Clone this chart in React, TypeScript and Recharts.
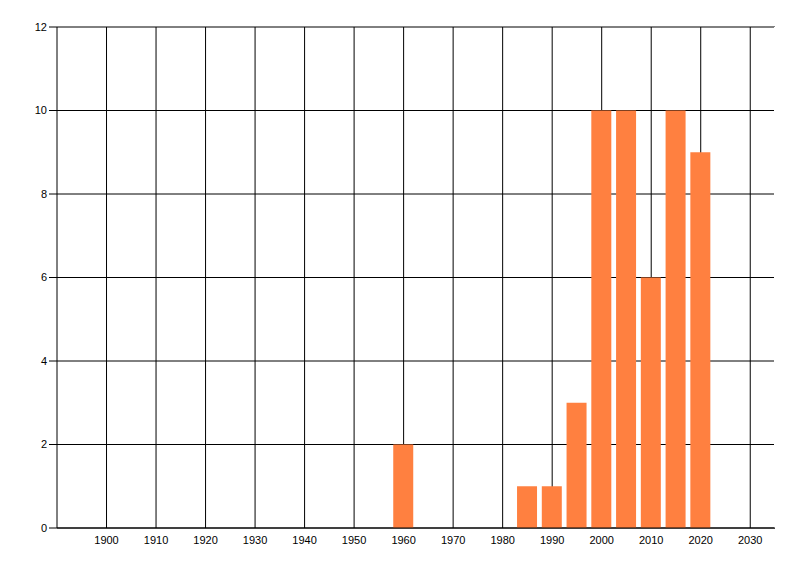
import React from 'react';
import { BarChart, Bar, XAxis, YAxis, CartesianGrid, ReferenceLine } from 'recharts';

const years = [1960, 1985, 1990, 1995, 2000, 2005, 2010, 2015, 2020];
const counts = [2, 1, 1, 3, 10, 10, 6, 10, 9];
const xTicks = [1900, 1910, 1920, 1930, 1940, 1950, 1960, 1970, 1980, 1990, 2000, 2010, 2020, 2030];
const yTicks = [0, 2, 4, 6, 8, 10, 12];
const xDomain: [number, number] = [1890, 2035];

const data = years.map((y, i) => ({ year: y, count: counts[i] }));

const font = { fontFamily: 'Liberation Sans, Arial, sans-serif', fontSize: 11, fill: '#000' };

const verticalGen = (props: any) => {
  const axis = props && props.xAxis;
  if (axis && typeof axis.scale === 'function') return xTicks.map((t) => axis.scale(t));
  const off = props && props.offset;
  if (!off) return [];
  return xTicks.map((t) => off.left + ((t - xDomain[0]) / (xDomain[1] - xDomain[0])) * off.width);
};

export default function App() {
  return (
    <div style={{ position: 'absolute', left: 0, top: 0, width: 800, height: 576, background: '#fff' }}>
      <BarChart
        width={800}
        height={576}
        data={data}
        margin={{ top: 27, right: 25, left: 0, bottom: 18 }}
      >
        <CartesianGrid stroke="#000" strokeWidth={1} verticalCoordinatesGenerator={verticalGen} />
        <XAxis
          dataKey="year"
          type="number"
          domain={xDomain}
          ticks={xTicks}
          interval={0}
          allowDataOverflow
          tickLine={false}
          tickSize={0}
          tickMargin={8}
          axisLine={{ stroke: '#000' }}
          tick={font}
          height={30}
        />
        <YAxis
          type="number"
          domain={[0, 12]}
          ticks={yTicks}
          interval={0}
          width={57}
          tickSize={8}
          tickMargin={2}
          tickLine={{ stroke: '#000' }}
          axisLine={{ stroke: '#000' }}
          tick={font}
        />
        <ReferenceLine x={xDomain[1]} stroke="#fff" strokeWidth={2} ifOverflow="extendDomain" />
        <Bar dataKey="count" fill="#FF8040" barSize={20} isAnimationActive={false} />
      </BarChart>
    </div>
  );
}
